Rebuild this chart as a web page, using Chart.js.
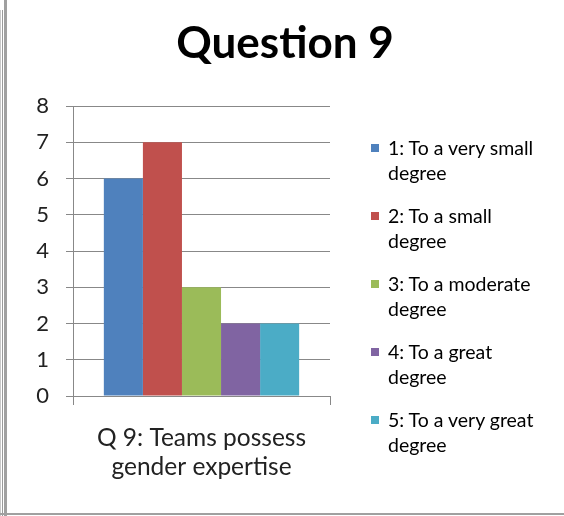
<!DOCTYPE html>
<html>
<head>
<meta charset="utf-8">
<script src="https://cdn.jsdelivr.net/npm/chart.js@4"></script>
<style>
  html, body { margin: 0; padding: 0; background: #fff; }
  #wrap { position: relative; width: 564px; height: 516px; overflow: hidden; font-family: Lato, sans-serif; }
  #frame1 { position: absolute; left: 0; top: 10px; width: 1px; bottom: 0; background: #c8c8c8; }
  #frame2 { position: absolute; left: 2px; top: 10px; width: 1px; bottom: 0; background: #9a9a9a; }
  #frame3 { position: absolute; left: 4px; top: 0; width: 3px; bottom: 0; background: #a0a0a0; }
  #frame4 { position: absolute; left: 0; right: 0; height: 2px; top: 513px; background: #a0a0a0; }
  #title { position: absolute; left: 0; width: 570px; top: 15px; text-align: center; font-weight: bold; font-size: 44px; color: #000; }
  #legend { position: absolute; left: 369px; top: 135px; }
  .item { position: relative; height: 68px; padding-left: 19px; font-size: 19.5px; line-height: 25px; color: #000; }
  .box { position: absolute; left: 2px; top: 9px; width: 8px; height: 8px; }
</style>
</head>
<body>
<div id="wrap">
  <canvas id="chart" width="564" height="516"></canvas>
  <div id="frame1"></div><div id="frame2"></div><div id="frame3"></div><div id="frame4"></div>
  <div id="title">Question 9</div>
  <div id="legend"></div>
</div>
<script>
// values
const categories = [['Q 9: Teams possess', 'gender expertise']];
const seriesNames = [
  ['1: To a very small', 'degree'],
  ['2: To a small', 'degree'],
  ['3: To a moderate', 'degree'],
  ['4: To a great', 'degree'],
  ['5: To a very great', 'degree']
];
const seriesValues = [6, 7, 3, 2, 2];
const seriesColors = ['#4F81BD', '#C0504D', '#9BBB59', '#8064A2', '#4BACC6'];
const yTicks = [0, 1, 2, 3, 4, 5, 6, 7, 8];

const gridColor = '#888888';

const datasets = seriesNames.map((name, i) => ({
  label: name.join(' '),
  data: [seriesValues[i]],
  backgroundColor: seriesColors[i],
  borderWidth: 0,
  categoryPercentage: 0.76,
  barPercentage: 1.0
}));

const ctx = document.getElementById('chart').getContext('2d');
const chart = new Chart(ctx, {
  type: 'bar',
  data: { labels: categories, datasets: datasets },
  options: {
    responsive: false,
    animation: false,
    layout: { padding: { top: 106, right: 234, left: 0, bottom: 0 } },
    plugins: {
      legend: { display: false },
      title: { display: false },
      tooltip: { enabled: false }
    },
    scales: {
      x: {
        grid: { display: true, drawOnChartArea: false, offset: true, tickLength: 9, color: gridColor },
        border: { color: gridColor },
        ticks: {
          color: '#222',
          padding: 18,
          font: { family: 'Lato', size: 24.5, lineHeight: 1.2 }
        },
        afterFit: s => { s.height = 120; }
      },
      y: {
        min: yTicks[0],
        max: yTicks[yTicks.length - 1],
        afterBuildTicks: s => { s.ticks = yTicks.map(v => ({ value: v })); },
        grid: { color: gridColor, tickLength: 7 },
        border: { color: gridColor },
        ticks: {
          color: '#222',
          padding: 17,
          font: { family: 'Lato', size: 22 }
        },
        afterFit: s => { s.width = 73; }
      }
    }
  }
});

// legend with wrapped labels, built from the chart's datasets
const legend = document.getElementById('legend');
chart.data.datasets.forEach((ds, i) => {
  const item = document.createElement('div');
  item.className = 'item';
  const box = document.createElement('span');
  box.className = 'box';
  box.style.background = ds.backgroundColor;
  item.appendChild(box);
  seriesNames[i].forEach(line => {
    const d = document.createElement('div');
    d.textContent = line;
    item.appendChild(d);
  });
  legend.appendChild(item);
});
</script>
</body>
</html>
